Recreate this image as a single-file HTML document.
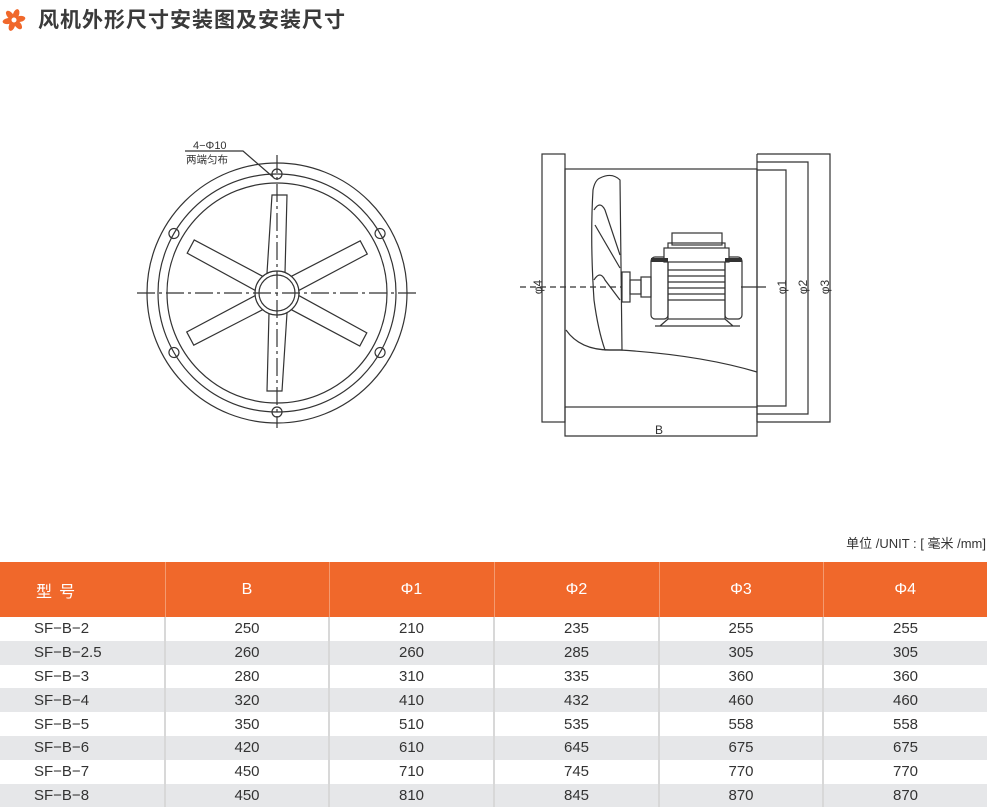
<!DOCTYPE html>
<html><head><meta charset="utf-8">
<style>
body{margin:0;width:993px;height:808px;background:#fff;overflow:hidden;position:relative;font-family:"Liberation Sans","Noto Sans CJK SC",sans-serif;}
.title{position:absolute;left:38px;top:4px;font-size:21px;font-weight:bold;color:#3a3a3a;letter-spacing:1px;font-family:"Noto Sans CJK SC",sans-serif;}
.unit{position:absolute;right:7px;top:533px;font-size:13px;color:#333;}
table{position:absolute;left:0;top:562px;width:987px;border-collapse:collapse;table-layout:fixed;}
th{background:#f0682b;color:#fff;font-weight:normal;font-size:16px;height:55px;border-right:1px solid #f49a6f;padding:0;}
th:last-child{border-right:none}
td{height:23.8px;padding:0;font-size:15px;color:#333;text-align:center;border-right:2px solid #d8d8d8;line-height:23px;}
td:last-child{border-right:none}
td:first-child{text-align:left;padding-left:34px;}
tr.g td{background:#e6e7e9;}
</style></head><body>
<svg style="position:absolute;left:0;top:0" width="993" height="530">
<g transform="translate(14,20)" fill="#f0682b">
<g id="p"><ellipse cx="0" cy="-6" rx="3" ry="5.5" transform="rotate(20)"/></g>
<use href="#p" transform="rotate(60)"/><use href="#p" transform="rotate(120)"/><use href="#p" transform="rotate(180)"/><use href="#p" transform="rotate(240)"/><use href="#p" transform="rotate(300)"/>
<circle r="2.5" fill="#fff"/>
</g>
<g fill="none" stroke="#333" stroke-width="1.2">
<circle cx="277" cy="293" r="130"/>
<circle cx="277" cy="293" r="119"/>
<circle cx="277" cy="293" r="110"/>
<g id="h"><circle cx="277" cy="174" r="5"/></g>
<use href="#h" transform="rotate(60 277 293)"/><use href="#h" transform="rotate(120 277 293)"/><use href="#h" transform="rotate(180 277 293)"/><use href="#h" transform="rotate(240 277 293)"/><use href="#h" transform="rotate(300 277 293)"/>
<polygon points="267,273 272,195 287,195 285,273" fill="#fff"/>
<g transform="rotate(180 277 293)"><polygon points="267,273 272,195 287,195 285,273" fill="#fff"/></g>
<g transform="rotate(62 277 293)"><polygon points="269,273 270,195 285,195 285,273" fill="#fff"/></g>
<g transform="rotate(-62 277 293)"><polygon points="269,273 270,195 285,195 285,273" fill="#fff"/></g>
<g transform="rotate(118 277 293)"><polygon points="269,273 270,195 285,195 285,273" fill="#fff"/></g>
<g transform="rotate(-118 277 293)"><polygon points="269,273 270,195 285,195 285,273" fill="#fff"/></g>
<circle cx="277" cy="293" r="22" fill="#fff"/>
<circle cx="277" cy="293" r="18"/>
<line x1="137" y1="293" x2="418" y2="293" stroke-dasharray="18,4,3,4"/>
<line x1="277" y1="155" x2="277" y2="428" stroke-dasharray="18,4,3,4"/>
<polyline points="185,151 243,151 273,177"/>
<rect x="542" y="154" width="23" height="268"/>
<rect x="565" y="169" width="192" height="238"/>
<polyline points="757,154 830,154 830,422 757,422"/>
<polyline points="757,162 808,162 808,414 757,414"/>
<polyline points="757,170 786,170 786,406 757,406"/>
<line x1="757" y1="154" x2="757" y2="422"/>
<polyline points="565,407 565,436 757,436 757,407"/>
<path d="M566,330 Q580,350 610,350 L620,350 Q700,355 757,372"/>
<path d="M600,178 Q612,172 620,180 L622,350 L605,350 Q598,330 594,300 Q590,240 593,190 Q595,180 600,178Z"/>
<path d="M594,210 Q600,200 605,210 L620,255"/>
<path d="M594,280 Q600,270 605,280 L620,300"/>
<path d="M595,225 L620,268"/>
<rect x="622" y="272" width="8" height="30" fill="#fff"/>
<rect x="630" y="280" width="11" height="14"/>
<rect x="641" y="277" width="10" height="20"/>
<rect x="651" y="257" width="17" height="62" rx="4"/>
<rect x="725" y="257" width="17" height="62" rx="4"/>
<rect x="668" y="243" width="57" height="76"/>
<rect x="672" y="233" width="50" height="12"/>
<rect x="664" y="248" width="65" height="14" fill="#fff"/>
<path d="M651,260 l17,0 M725,260 l17,0" stroke-width="4"/>
<path d="M668,270h57M668,276h57M668,282h57M668,288h57M668,294h57M668,300h57"/>
<path d="M655,326 L740,326 M668,319 L660,326 M725,319 L733,326"/>
<line x1="520" y1="287" x2="622" y2="287" stroke-dasharray="6,4"/>
<line x1="741" y1="287" x2="766" y2="287"/>
</g>
<g font-size="11" fill="#333" font-family="Liberation Sans,Noto Sans CJK SC,sans-serif">
<text x="193" y="149">4−Φ10</text>
<text x="186" y="163" font-size="10.5">两端匀布</text>
<text x="655" y="434" font-size="12">B</text>
<text transform="translate(542,287) rotate(-90)" text-anchor="middle" font-size="12">φ4</text>
<text transform="translate(786,287) rotate(-90)" text-anchor="middle" font-size="12">φ1</text>
<text transform="translate(807,287) rotate(-90)" text-anchor="middle" font-size="12">φ2</text>
<text transform="translate(829,287) rotate(-90)" text-anchor="middle" font-size="12">φ3</text>
</g>
</svg>
<div class="title">风机外形尺寸安装图及安装尺寸</div>
<div class="unit">单位 /UNIT : [ 毫米 /mm]</div>
<table>
<colgroup><col style="width:165px"><col style="width:164px"><col style="width:165px"><col style="width:165px"><col style="width:164px"><col></colgroup>
<tr><th style="text-align:left;padding-left:36px;font-family:'Noto Sans CJK SC',sans-serif">型&nbsp;&nbsp;号</th><th>B</th><th>Φ1</th><th>Φ2</th><th>Φ3</th><th>Φ4</th></tr>
<tr><td>SF−B−2</td><td>250</td><td>210</td><td>235</td><td>255</td><td>255</td></tr>
<tr class="g"><td>SF−B−2.5</td><td>260</td><td>260</td><td>285</td><td>305</td><td>305</td></tr>
<tr><td>SF−B−3</td><td>280</td><td>310</td><td>335</td><td>360</td><td>360</td></tr>
<tr class="g"><td>SF−B−4</td><td>320</td><td>410</td><td>432</td><td>460</td><td>460</td></tr>
<tr><td>SF−B−5</td><td>350</td><td>510</td><td>535</td><td>558</td><td>558</td></tr>
<tr class="g"><td>SF−B−6</td><td>420</td><td>610</td><td>645</td><td>675</td><td>675</td></tr>
<tr><td>SF−B−7</td><td>450</td><td>710</td><td>745</td><td>770</td><td>770</td></tr>
<tr class="g"><td>SF−B−8</td><td>450</td><td>810</td><td>845</td><td>870</td><td>870</td></tr>
</table>
</body></html>
